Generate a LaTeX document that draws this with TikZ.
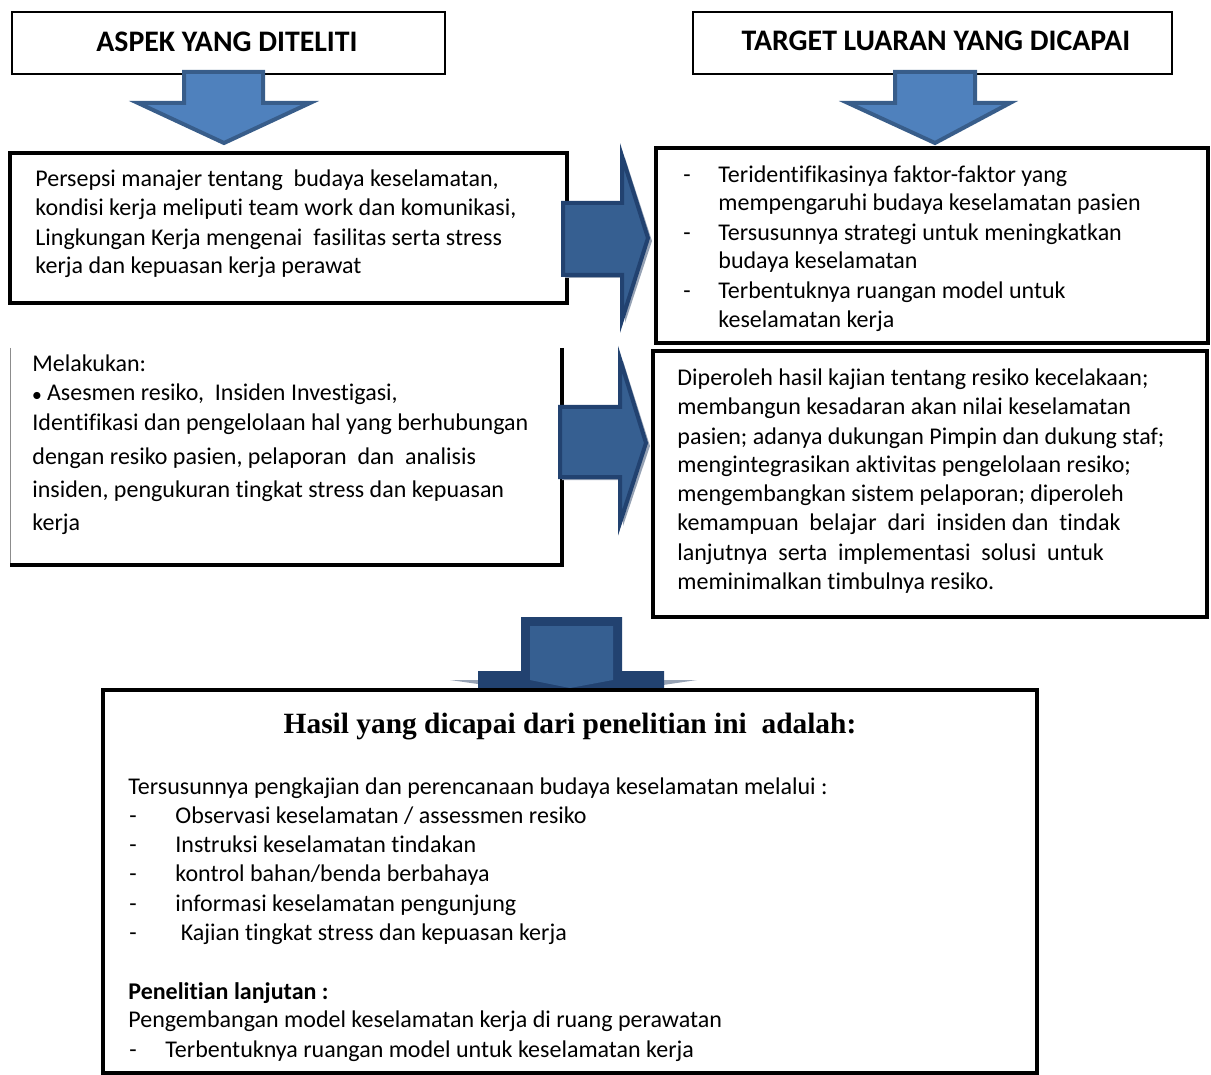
\documentclass[tikz,border=0pt]{standalone}
\usepackage{fontspec}
\setmainfont{Carlito}[Ligatures=NoCommon]
\newfontfamily\tnr{Liberation Serif}
\definecolor{lb}{RGB}{79,129,189}
\definecolor{lbd}{RGB}{56,93,138}
\definecolor{db}{RGB}{54,95,145}
\definecolor{dbd}{RGB}{34,66,112}
\definecolor{shd}{RGB}{150,162,180}
\begin{document}
\begin{tikzpicture}[x=0.5pt,y=-0.5pt,
  hdrbox/.style={draw,line width=0.8pt},
  thbox/.style={draw,line width=2pt},
  txt/.style={anchor=west,inner sep=0pt,font=\fontsize{12}{14}\selectfont},
  htxt/.style={inner sep=0pt,font=\fontsize{14.9}{17}\selectfont\bfseries},
  lbarrow/.style={fill=lb,draw=lbd,line width=2pt,line join=miter},
  dbarrow/.style={fill=db,draw=dbd,line width=2pt,line join=miter}]
\useasboundingbox (0,0) rectangle (1211,1075);
% headers
\draw[hdrbox] (12,12) rectangle (445,74);
\node[htxt] (h1) at (227,42) {ASPEK YANG DITELITI};
\draw[hdrbox] (693,12) rectangle (1172,74);
\node[htxt] (h2) at (936,41) {TARGET LUARAN YANG DICAPAI};
% down arrows
\draw[lbarrow] (184,72) -- (263,72) -- (263,103) -- (310,103) -- (224,143) -- (138,103) -- (184,103) -- cycle;
\draw[lbarrow] (895,72) -- (975,72) -- (975,103) -- (1010,103) -- (935,143) -- (848,103) -- (895,103) -- cycle;
% box A
\draw[thbox] (10,153) rectangle (567,303);
\node[txt] (a1) at (35,181) {\strut Persepsi manajer tentang\ \ budaya keselamatan,};
\node[txt] (a2) at (35,210) {\strut kondisi kerja meliputi team work dan komunikasi,};
\node[txt] (a3) at (35,240) {\strut Lingkungan Kerja mengenai\ \ fasilitas serta stress};
\node[txt] (a4) at (35,268) {\strut kerja dan kepuasan kerja perawat};
% box B
\draw[thbox] (656,148) rectangle (1208,343);
\foreach \yy/\t/\d in {177/{Teridentifikasinya faktor-faktor yang}/-,205/{mempengaruhi budaya keselamatan pasien}/,235/{Tersusunnya strategi untuk meningkatkan}/-,263/{budaya keselamatan}/,293/{Terbentuknya ruangan model untuk}/-,322/{keselamatan kerja}/}{
  \node[txt] at (718,\yy) {\strut\t};
  \node[txt] at (683,\yy) {\strut\d};
}
% right arrows with shadows
\fill[shd] (565,206) -- (625,206) -- (625,158) -- (652,241) -- (625,323) -- (625,278) -- (565,278) -- cycle;
\draw[dbarrow] (563,203) -- (622,203) -- (622,156) -- (648,238) -- (622,320) -- (622,275) -- (563,275) -- cycle;
% box C
\draw[line width=0.5pt,black!45] (10,348) -- (10,565);
\draw[thbox] (562,348) -- (562,565) -- (10,565);
\node[txt] (c1) at (32,366) {\strut Melakukan:};
\node[txt] (c2) at (32,395) {\strut {\fontsize{9}{10}\selectfont$\bullet$} Asesmen resiko,\ \ Insiden Investigasi,};
\node[txt] (c3) at (32,425) {\strut Identifikasi dan pengelolaan hal yang berhubungan};
\node[txt] (c4) at (32,459) {\strut dengan resiko pasien, pelaporan\ \ dan\ \ analisis};
\node[txt] (c5) at (32,492) {\strut insiden, pengukuran tingkat stress dan kepuasan};
\node[txt] (c6) at (32,525) {\strut kerja};
\fill[shd] (562,410) -- (623,410) -- (623,361) -- (650,446) -- (623,526) -- (623,480) -- (562,480) -- cycle;
\draw[dbarrow] (560,407) -- (620,407) -- (620,359) -- (646,443) -- (620,523) -- (620,477) -- (560,477) -- cycle;
% box D
\draw[thbox] (653,351) rectangle (1207,617);
\node[txt] (d1) at (677,380) {\strut Diperoleh hasil kajian tentang resiko kecelakaan;};
\node[txt] (d2) at (677,409) {\strut membangun kesadaran akan nilai keselamatan};
\node[txt] (d3) at (677,439) {\strut pasien; adanya dukungan Pimpin dan dukung staf;};
\node[txt] (d4) at (677,467) {\strut mengintegrasikan aktivitas pengelolaan resiko;};
\node[txt] (d5) at (677,496) {\strut mengembangkan sistem pelaporan; diperoleh};
\node[txt] (d6) at (677,525) {\strut kemampuan\ \ belajar\ \ dari\ \ insiden dan\ \ tindak};
\node[txt] (d7) at (677,555) {\strut lanjutnya\ \ serta\ \ implementasi\ \ solusi\ \ untuk};
\node[txt] (d8) at (677,584) {\strut meminimalkan timbulnya resiko.};
% bottom arrow
\fill[shd] (450,680) -- (697,680) -- (575,698) -- cycle;
\draw[fill=dbd,draw=dbd,line width=1pt] (522,618) -- (621,618) -- (621,672) -- (663,672) -- (663,688) -- (570,700) -- (479,688) -- (479,672) -- (522,672) -- cycle;
\fill[db] (530,626) -- (613,626) -- (613,680) -- (570,688) -- (530,680) -- cycle;
% box E
\draw[thbox,fill=white] (103,690) rectangle (1037,1073);
\node[inner sep=0pt,font=\tnr\bfseries\fontsize{14.7}{17}\selectfont] (e0) at (570,727) {Hasil yang dicapai dari penelitian ini\ \ adalah:};
\node[txt] (e1) at (128,789) {\strut Tersusunnya pengkajian dan perencanaan budaya keselamatan melalui :};
\foreach \yy/\t in {818/{Observasi keselamatan / assessmen resiko},847/{Instruksi keselamatan tindakan},876/{kontrol bahan/benda berbahaya},906/{informasi keselamatan pengunjung},935/{\ Kajian tingkat stress dan kepuasan kerja}}{
  \node[txt] at (175,\yy) {\strut\t};
  \node[txt] at (129,\yy) {\strut -};
}
\node[txt,font=\fontsize{12}{14}\selectfont\bfseries] (e2) at (128,994) {\strut Penelitian lanjutan :};
\node[txt] (e3) at (128,1022) {\strut Pengembangan model keselamatan kerja di ruang perawatan};
\node[txt] (e4) at (129,1052) {\strut -};
\node[txt] (e5) at (165,1052) {\strut Terbentuknya ruangan model untuk keselamatan kerja};
\end{tikzpicture}
\end{document}
